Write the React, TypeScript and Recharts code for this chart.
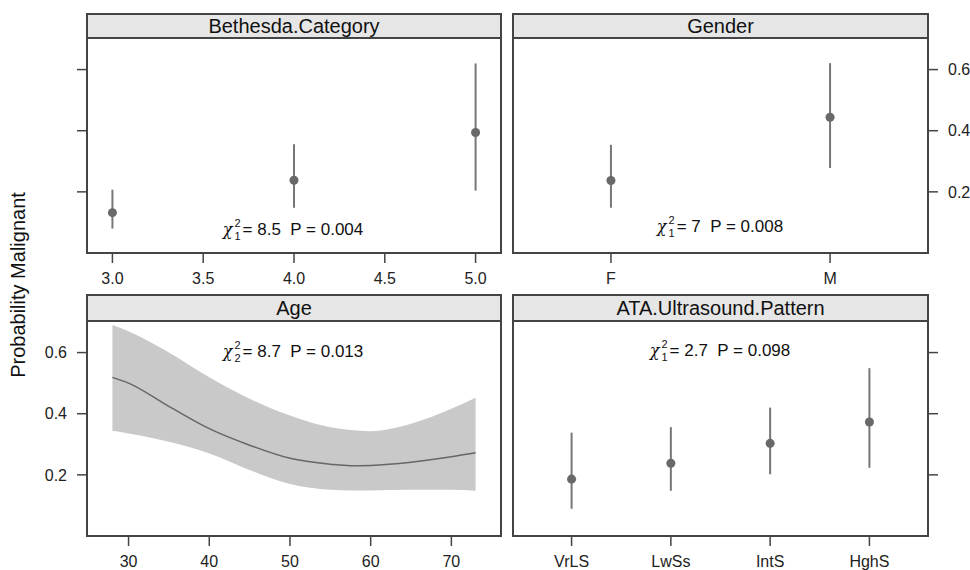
import React from 'react';
import { ComposedChart, Scatter, ErrorBar, XAxis, YAxis, Area, Line } from 'recharts';

// Bethesda category panel
const bethesdaLevels = [3, 4, 5];
const bethesdaEst = [0.132, 0.238, 0.394];
const bethesdaLo = [0.08, 0.148, 0.204];
const bethesdaHi = [0.207, 0.356, 0.62];
const bethesdaTicks = [3.0, 3.5, 4.0, 4.5, 5.0];

// Gender panel
const genderLevels = ['F', 'M'];
const genderEst = [0.237, 0.444];
const genderLo = [0.148, 0.278];
const genderHi = [0.354, 0.621];

// Age panel (fitted curve with confidence band)
const ageValues = [28, 30, 35, 40, 45, 50, 55, 57.5, 60, 65, 70, 73];
const ageFit = [0.519, 0.5, 0.424, 0.351, 0.297, 0.254, 0.235, 0.23, 0.231, 0.241, 0.259, 0.272];
const ageLo = [0.344, 0.335, 0.308, 0.27, 0.216, 0.17, 0.151, 0.149, 0.149, 0.151, 0.151, 0.148];
const ageHi = [0.69, 0.67, 0.6, 0.519, 0.449, 0.394, 0.356, 0.347, 0.343, 0.367, 0.416, 0.452];
const ageTicks = [30, 40, 50, 60, 70];

// ATA ultrasound pattern panel
const ataLevels = ['VrLS', 'LwSs', 'IntS', 'HghS'];
const ataEst = [0.186, 0.238, 0.303, 0.373];
const ataLo = [0.089, 0.148, 0.202, 0.223];
const ataHi = [0.338, 0.356, 0.42, 0.549];

const probTicks = [0.2, 0.4, 0.6];
const probDomain = [0, 0.7];

const FONT = '"Liberation Sans", Arial, Helvetica, sans-serif';
const FRAME = '#444';
const MARK = '#696969';
const BAND = '#c9c9c9';
const TICK_STYLE = { fill: '#222', fontSize: 16, fontFamily: FONT };

const pointRows = (xs: number[], est: number[], lo: number[], hi: number[]) =>
  est.map((y, i) => ({ x: xs[i], y, err: [y - lo[i], hi[i] - y] }));

const bethesdaRows = pointRows(bethesdaLevels, bethesdaEst, bethesdaLo, bethesdaHi);
const genderRows = pointRows(genderLevels.map((_, i) => i + 1), genderEst, genderLo, genderHi);
const ataRows = pointRows(ataLevels.map((_, i) => i + 1), ataEst, ataLo, ataHi);
const ageRows = ageValues.map((a, i) => ({ age: a, fit: ageFit[i], band: [ageLo[i], ageHi[i]] }));

type Box = { x1: number; x2: number; stripTop: number; plotTop: number; plotBottom: number };

const TL: Box = { x1: 87, x2: 501, stripTop: 14, plotTop: 39, plotBottom: 253 };
const TR: Box = { x1: 513, x2: 928, stripTop: 14, plotTop: 39, plotBottom: 253 };
const BL: Box = { x1: 87, x2: 501, stripTop: 295, plotTop: 322, plotBottom: 536 };
const BR: Box = { x1: 513, x2: 928, stripTop: 295, plotTop: 322, plotBottom: 536 };

const SIDE = 60;
const PAD_TOP = 5;
const AXIS_H = 45;

const Frame = ({ box, title }: { box: Box; title: string }) => (
  <>
    <div
      style={{
        position: 'absolute',
        left: box.x1,
        top: box.stripTop,
        width: box.x2 - box.x1,
        height: box.plotTop - box.stripTop,
        background: '#e6e6e6',
        borderBottom: `2px solid ${FRAME}`,
        boxSizing: 'border-box',
        textAlign: 'center',
        fontSize: 20,
        lineHeight: `${box.plotTop - box.stripTop}px`,
        color: '#111',
      }}
    >
      {title}
    </div>
    <div
      style={{
        position: 'absolute',
        left: box.x1 - 1,
        top: box.stripTop - 1,
        width: box.x2 - box.x1 + 2,
        height: box.plotBottom - box.stripTop + 2,
        border: `2px solid ${FRAME}`,
        boxSizing: 'border-box',
        pointerEvents: 'none',
        zIndex: 2,
      }}
    />
  </>
);

// chi-square label: χ with stacked df / power, then the statistic and P value
const Stat = ({ x, y, df, chi, p }: { x: number; y: number; df: number; chi: string; p: string }) => (
  <div
    style={{
      position: 'absolute',
      left: x,
      top: y,
      transform: 'translate(-50%, -50%)',
      fontSize: 17,
      lineHeight: '20px',
      color: '#111',
      whiteSpace: 'pre',
      display: 'flex',
      alignItems: 'center',
    }}
  >
    <span
      style={{
        fontFamily: '"DejaVu Serif", serif',
        fontStyle: 'italic',
        fontSize: 16,
        lineHeight: '18px',
        paddingRight: 2,
      }}
    >
      χ
    </span>
    <span
      style={{
        display: 'inline-flex',
        flexDirection: 'column',
        alignItems: 'center',
        fontSize: 11,
        lineHeight: '13px',
        marginRight: 2,
      }}
    >
      <span>2</span>
      <span>{df}</span>
    </span>
    <span>{`= ${chi}  P = ${p}`}</span>
  </div>
);

const chartPos = (box: Box): React.CSSProperties => ({
  position: 'absolute',
  left: box.x1 - SIDE,
  top: box.plotTop - PAD_TOP,
});

const chartSize = (box: Box) => ({
  width: box.x2 - box.x1 + SIDE * 2,
  height: box.plotBottom - box.plotTop + PAD_TOP + AXIS_H,
});

const probAxis = (side: 'left' | 'right', labels: boolean) => (
  <YAxis
    yAxisId="p"
    orientation={side}
    type="number"
    width={SIDE}
    domain={probDomain}
    ticks={probTicks}
    axisLine={false}
    tickLine={{ stroke: FRAME, strokeWidth: 1.5 }}
    tickSize={10}
    tickMargin={10}
    tick={TICK_STYLE}
    tickFormatter={(v: number) => (labels ? v.toFixed(1) : '')}
  />
);

const pointSeries = (rows: any[]) => (
  <Scatter yAxisId="p" data={rows} dataKey="y" fill={MARK} isAnimationActive={false}>
    <ErrorBar dataKey="err" direction="y" width={0} stroke="#777" strokeWidth={2} isAnimationActive={false} />
  </Scatter>
);

const catAxis = (levels: string[], domain: number[]) => (
  <XAxis
    dataKey="x"
    type="number"
    height={AXIS_H}
    domain={domain}
    allowDataOverflow
    ticks={levels.map((_, i) => i + 1)}
    tickFormatter={(v: number) => levels[v - 1] ?? ''}
    axisLine={false}
    tickLine={{ stroke: FRAME, strokeWidth: 1.5 }}
    tickSize={10}
    tickMargin={10}
    tick={TICK_STYLE}
    interval={0}
  />
);

const margins = (side: 'left' | 'right') => ({
  top: PAD_TOP,
  bottom: 0,
  left: side === 'left' ? 0 : SIDE,
  right: side === 'right' ? 0 : SIDE,
});

export default function App() {
  return (
    <div
      style={{
        position: 'absolute',
        left: 0,
        top: 0,
        width: 970,
        height: 570,
        background: '#fff',
        fontFamily: FONT,
        overflow: 'hidden',
      }}
    >
      <div style={chartPos(TL)}>
        <ComposedChart {...chartSize(TL)} margin={margins('left')}>
          <XAxis
            dataKey="x"
            type="number"
            height={AXIS_H}
            domain={[2.86, 5.14]}
            allowDataOverflow
            ticks={bethesdaTicks}
            tickFormatter={(v: number) => v.toFixed(1)}
            axisLine={false}
            tickLine={{ stroke: FRAME, strokeWidth: 1.5 }}
            tickSize={10}
            tickMargin={10}
            tick={TICK_STYLE}
            interval={0}
          />
          {probAxis('left', false)}
          {pointSeries(bethesdaRows)}
        </ComposedChart>
      </div>

      <div style={chartPos(TR)}>
        <ComposedChart {...chartSize(TR)} margin={margins('right')}>
          {catAxis(genderLevels, [0.553, 2.447])}
          {probAxis('right', true)}
          {pointSeries(genderRows)}
        </ComposedChart>
      </div>

      <div style={chartPos(BL)}>
        <ComposedChart {...chartSize(BL)} margin={margins('left')} data={ageRows}>
          <XAxis
            dataKey="age"
            type="number"
            height={AXIS_H}
            domain={[24.85, 76.15]}
            allowDataOverflow
            ticks={ageTicks}
            axisLine={false}
            tickLine={{ stroke: FRAME, strokeWidth: 1.5 }}
            tickSize={10}
            tickMargin={10}
            tick={TICK_STYLE}
            interval={0}
          />
          {probAxis('left', true)}
          <Area
            yAxisId="p"
            type="monotone"
            dataKey="band"
            fill={BAND}
            fillOpacity={1}
            stroke="none"
            isAnimationActive={false}
          />
          <Line
            yAxisId="p"
            type="monotone"
            dataKey="fit"
            stroke="#666"
            strokeWidth={1.5}
            dot={false}
            isAnimationActive={false}
          />
        </ComposedChart>
      </div>

      <div style={chartPos(BR)}>
        <ComposedChart {...chartSize(BR)} margin={margins('right')}>
          {catAxis(ataLevels, [0.41, 4.59])}
          {probAxis('right', false)}
          {pointSeries(ataRows)}
        </ComposedChart>
      </div>

      <Frame box={TL} title="Bethesda.Category" />
      <Frame box={TR} title="Gender" />
      <Frame box={BL} title="Age" />
      <Frame box={BR} title="ATA.Ultrasound.Pattern" />

      <Stat x={293} y={230} df={1} chi="8.5" p="0.004" />
      <Stat x={720} y={227} df={1} chi="7" p="0.008" />
      <Stat x={293} y={352} df={2} chi="8.7" p="0.013" />
      <Stat x={720} y={351} df={1} chi="2.7" p="0.098" />

      <div
        style={{
          position: 'absolute',
          left: 18,
          top: 285,
          transform: 'translate(-50%, -50%) rotate(-90deg)',
          fontSize: 20,
          color: '#111',
          whiteSpace: 'nowrap',
        }}
      >
        Probability Malignant
      </div>
    </div>
  );
}
